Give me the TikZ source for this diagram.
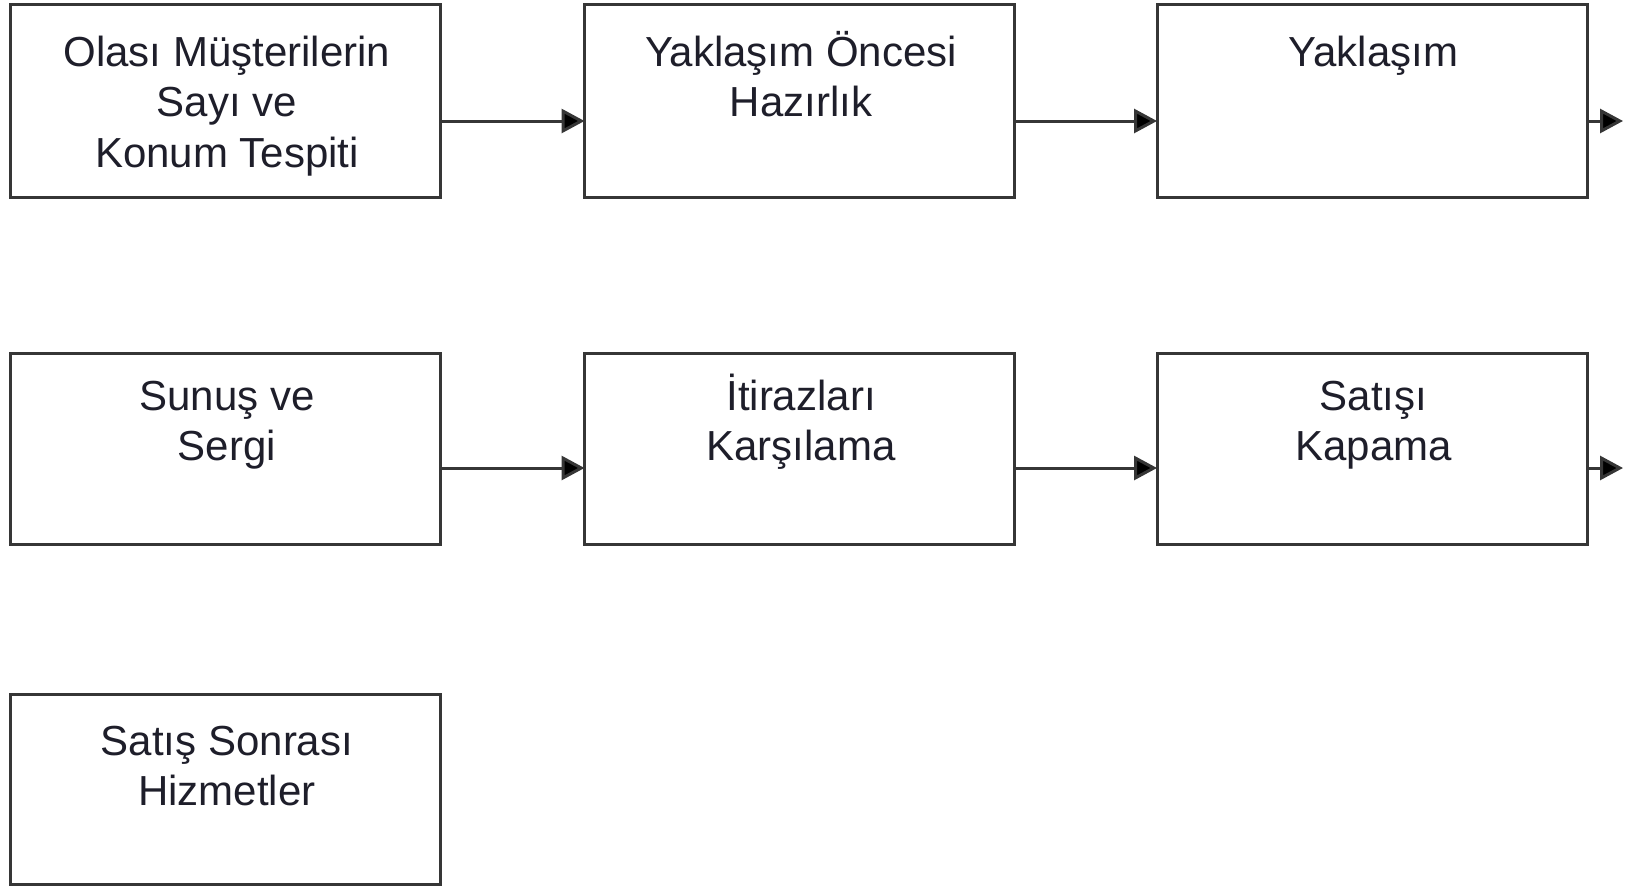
\documentclass[tikz,border=0pt]{standalone}
\usepackage{fontspec}
\setmainfont{Liberation Sans}
\usetikzlibrary{arrows.meta}
\definecolor{edge}{HTML}{363636}
\definecolor{ink}{HTML}{1E1E2A}
% fixed first-line height so every label's first baseline sits at the same depth
\newcommand{\capstrut}{\rule{0pt}{44pt}}
\tikzset{
  stepbox/.style={draw=edge, line width=3pt, fill=white, rectangle,
    inner sep=0pt, outer sep=0pt, minimum width=430pt, minimum height=193pt},
  lbl/.style={anchor=north, inner sep=0pt, outer sep=0pt, align=center,
    text=ink, font=\fontsize{42}{50.5}\selectfont},
  conn/.style={draw=edge, line width=3pt,
    -{Triangle[length=23pt, width=24pt, fill=black]}}
}
\begin{document}
\begin{tikzpicture}[x=1pt, y=-1pt]
\useasboundingbox (0,0) rectangle (1635,886);

% process steps
\node[stepbox] (b1) at (225.5,100.5) {};
\node[stepbox] (b2) at (799.5,100.5) {};
\node[stepbox] (b3) at (1372,100.5) {};
\node[stepbox, minimum height=191pt] (b4) at (225.5,448.5) {};
\node[stepbox, minimum height=191pt] (b5) at (799.5,448.5) {};
\node[stepbox, minimum height=191pt] (b6) at (1372,448.5) {};
\node[stepbox, minimum height=190pt] (b7) at (225.5,789) {};

% step titles
\node[lbl] (t1) at ([xshift=1.5pt]b1.north |- 0,22) {\capstrut Olası Müşterilerin\\Sayı ve\\Konum Tespiti};
\node[lbl] (t2) at ([xshift=1.5pt]b2.north |- 0,22) {\capstrut Yaklaşım Öncesi\\Hazırlık};
\node[lbl] (t3) at ([xshift=1.5pt]b3.north |- 0,22) {\capstrut Yaklaşım};
\node[lbl] (t4) at ([xshift=1.5pt]b4.north |- 0,366) {\capstrut Sunuş ve\\Sergi};
\node[lbl] (t5) at ([xshift=1.5pt]b5.north |- 0,366) {\capstrut İtirazları\\Karşılama};
\node[lbl] (t6) at ([xshift=1.5pt]b6.north |- 0,366) {\capstrut Satışı\\Kapama};
\node[lbl] (t7) at ([xshift=1.5pt]b7.north |- 0,711) {\capstrut Satış Sonrası\\Hizmetler};

% connectors
\coordinate (r1) at (0,121);
\coordinate (r2) at (0,468);
\coordinate (e1) at (1623,121);
\coordinate (e2) at (1623,468);
\draw[conn] (b1.east |- r1) -- (b2.west |- r1);
\draw[conn] (b2.east |- r1) -- (b3.west |- r1);
\draw[conn] (b3.east |- r1) -- (e1);
\draw[conn] (b4.east |- r2) -- (b5.west |- r2);
\draw[conn] (b5.east |- r2) -- (b6.west |- r2);
\draw[conn] (b6.east |- r2) -- (e2);
\end{tikzpicture}
\end{document}
